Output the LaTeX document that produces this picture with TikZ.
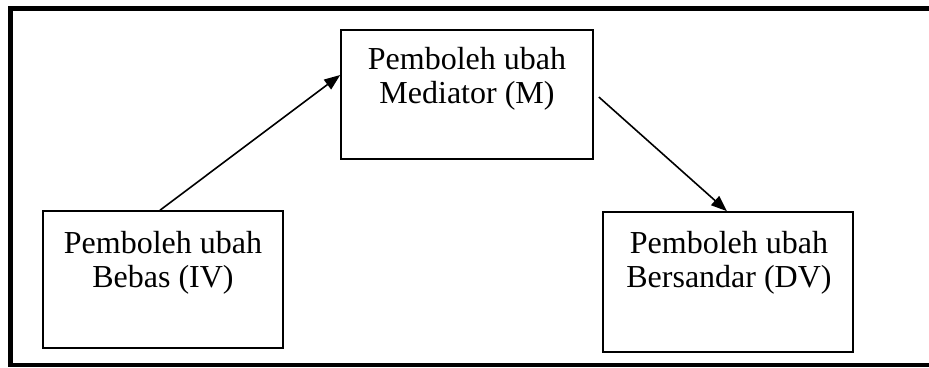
\documentclass[tikz,border=0pt]{standalone}
\usepackage{fontspec}
\setmainfont{Liberation Serif}
\usetikzlibrary{arrows.meta}
\begin{document}
\begin{tikzpicture}[x=1pt,y=1pt,
  varbox/.style={draw=black,line width=1.6pt,rectangle,inner sep=0pt},
  vartext/.style={align=center,anchor=north,inner sep=0pt,
    font={\fontsize{32}{34}\selectfont}},
  link/.style={line width=1.6pt,-{Triangle[length=16pt,width=12pt]}}]
  \useasboundingbox (0,0) rectangle (929,367);
  % open frame: left, top and bottom rules
  \draw[line width=5pt] (929,358.5) -- (10.8,358.5) -- (10.8,2.5);
  \draw[line width=4pt] (8.3,2.5) -- (929,2.5);
  % variable boxes
  \node[varbox,minimum width=240pt,minimum height=137pt] (iv) at (163,87.5) {};
  \node[varbox,minimum width=252pt,minimum height=129pt] (m) at (467,272.5) {};
  \node[varbox,minimum width=250pt,minimum height=140pt] (dv) at (728,85) {};
  % labels
  \node[vartext] (ivt) at (163,136) {Pemboleh ubah\\Bebas (IV)};
  \node[vartext] (mt) at (467,320) {Pemboleh ubah\\Mediator (M)};
  \node[vartext] (dvt) at (729,136) {Pemboleh ubah\\Bersandar (DV)};
  % paths
  \draw[link] ([xshift=-3pt]iv.north) -- ([yshift=19.5pt]m.west);
  \draw[link] ([xshift=5pt,yshift=-2.5pt]m.east) -- ([xshift=-1pt]dv.north);
\end{tikzpicture}
\end{document}
